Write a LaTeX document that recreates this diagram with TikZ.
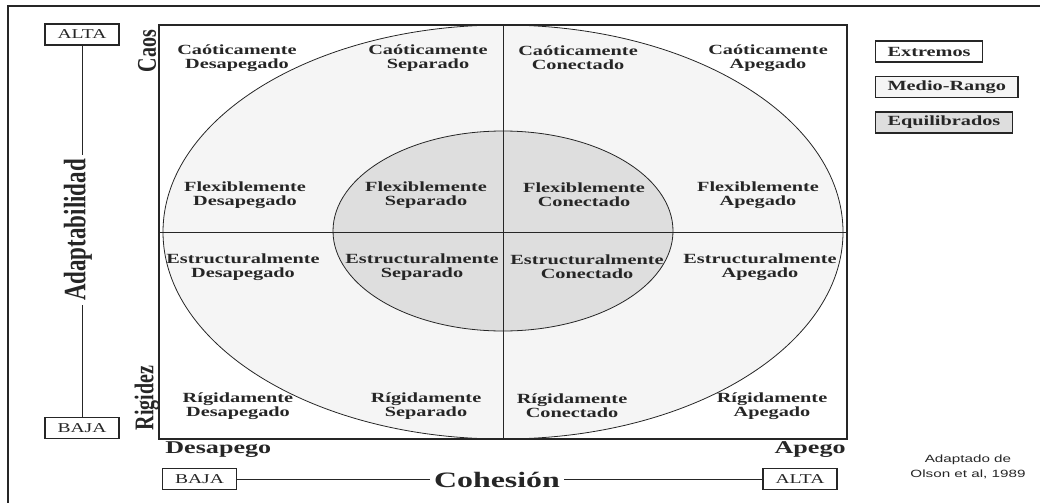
\documentclass[tikz,border=0pt]{standalone}
\usepackage{fontspec}
\setmainfont{Liberation Serif}[FakeStretch=1.45]
\newfontfamily\upfont{Liberation Serif}
\newfontfamily\notefont{Liberation Sans}[FakeStretch=1.45]
\definecolor{outerfill}{gray}{0.96}
\definecolor{innerfill}{gray}{0.87}

\begin{document}
\begin{tikzpicture}[x=1pt,y=-1pt,thick,color=black!85]
  \tikzstyle{celltext}=[font=\bfseries\fontsize{14}{14}\selectfont,align=center,inner sep=0pt]
  \tikzstyle{tagbox}=[draw,line width=1.1pt,font=\fontsize{13.5}{14}\selectfont,minimum width=74pt,minimum height=21pt,inner sep=0pt]
  \tikzstyle{keybox}=[draw,line width=1.1pt,font=\bfseries\fontsize{14}{14}\selectfont,minimum height=21pt,inner xsep=12pt,inner ysep=0pt,anchor=west]
  \tikzstyle{sidetext}=[font=\upfont\bfseries\fontsize{20}{20}\selectfont,xscale=1.35,rotate=90,inner sep=0pt]
  \useasboundingbox (0,0) rectangle (1040,503);
  \draw[line width=1.2pt] (1040,6) -- (8,6) -- (8,503);

  \filldraw[fill=outerfill] (503,232) ellipse [x radius=340,y radius=207];
  \filldraw[fill=innerfill] (503,231) ellipse [x radius=170,y radius=100];
  \draw (503,25) -- (503,439) (159,232) -- (847,232);
  \draw[line width=1.2pt] (159,25) rectangle (847,439);

  \node [celltext] (CD) at (237,58) {Caóticamente\\Desapegado};
  \node [celltext] (CS) at (428,58) {Caóticamente\\Separado};
  \node [celltext] (CC) at (578,58) {Caóticamente\\Conectado};
  \node [celltext] (CA) at (768,58) {Caóticamente\\Apegado};
  \node [celltext] (FD) at (245,195) {Flexiblemente\\Desapegado};
  \node [celltext] (FS) at (426,195) {Flexiblemente\\Separado};
  \node [celltext] (FC) at (584,195) {Flexiblemente\\Conectado};
  \node [celltext] (FA) at (758,195) {Flexiblemente\\Apegado};
  \node [celltext] (ED) at (243,267) {Estructuralmente\\Desapegado};
  \node [celltext] (ES) at (422,267) {Estructuralmente\\Separado};
  \node [celltext] (EC) at (587,267) {Estructuralmente\\Conectado};
  \node [celltext] (EA) at (760,267) {Estructuralmente\\Apegado};
  \node [celltext] (RD) at (238,406) {Rígidamente\\Desapegado};
  \node [celltext] (RS) at (426,406) {Rígidamente\\Separado};
  \node [celltext] (RC) at (572,406) {Rígidamente\\Conectado};
  \node [celltext] (RA) at (772,406) {Rígidamente\\Apegado};

  \node [sidetext] (caos) at (147,51) {Caos};
  \node [sidetext] (rig) at (147,398) {Rigidez};
  \node [font=\bfseries\fontsize{18}{18}\selectfont,anchor=base west,inner sep=0pt] (desap) at (165,453) {Desapego};
  \node [font=\bfseries\fontsize{18}{18}\selectfont,anchor=base east,inner sep=0pt] (apego) at (846,453) {Apego};

  \node [tagbox] (aL) at (82,34.5) {ALTA};
  \node [tagbox] (bL) at (82,428) {BAJA};
  \node [sidetext,font=\upfont\bfseries\fontsize{23}{23}\selectfont,inner sep=4pt] (adapt) at (78,230) {Adaptabilidad};
  \draw (aL.south) -- (aL.south |- adapt.east);
  \draw (bL.north |- adapt.west) -- (bL.north);

  \node [tagbox] (bC) at (199.5,479) {BAJA};
  \node [tagbox] (aC) at (800,479) {ALTA};
  \node [font=\bfseries\fontsize{22}{22}\selectfont,anchor=base,inner xsep=4pt] (coh) at (497,487) {Cohesión};
  \draw (bC.east) -- (bC.east -| coh.west);
  \draw (aC.west -| coh.east) -- (aC.west);

  \node [keybox] (ext) at (875,51.5) {Extremos};
  \node [keybox,fill=outerfill] (mid) at (875,87) {Medio-Rango};
  \node [keybox,fill=innerfill] (equ) at (875,122.5) {Equilibrados};

  \node [font=\notefont\fontsize{10.5}{15}\selectfont,align=center] (note) at (968,467) {Adaptado de\\Olson et al, 1989};
\end{tikzpicture}
\end{document}
